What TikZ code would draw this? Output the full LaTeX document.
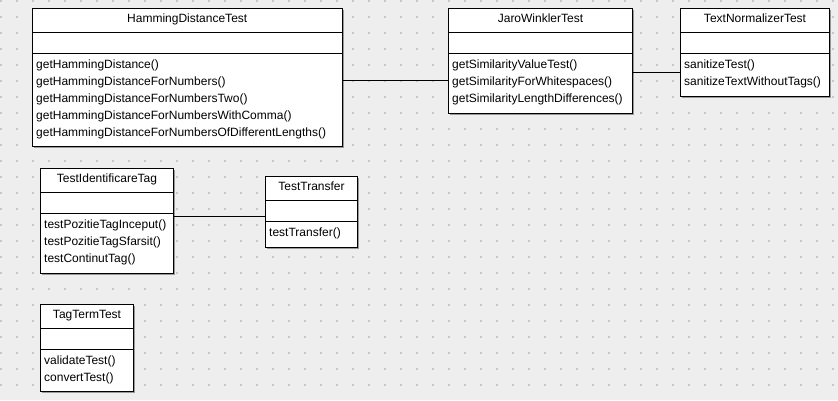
\documentclass[tikz,border=0pt]{standalone}
\usepackage{fontspec}
\setmainfont{Liberation Sans}
\usetikzlibrary{shadows}
\definecolor{canvas}{HTML}{EEEEEE}
\definecolor{griddot}{HTML}{C8C8C8}
\begin{document}
\begin{tikzpicture}[x=1pt,y=-1pt,
		cls/.style={draw,line width=1pt,fill=white,anchor=north west,inner sep=0pt,outer sep=0pt,
			drop shadow={shadow xshift=1.5pt,shadow yshift=-1.5pt,fill=black!40,opacity=1}},
		title/.style={anchor=base,inner sep=0pt,font=\fontsize{12}{17}\selectfont},
		meth/.style={anchor=base west,inner sep=0pt,font=\fontsize{12}{17}\selectfont},
		sep/.style={line width=1pt}]
		\useasboundingbox (0,0) rectangle (838,400);
		\fill[canvas] (0,0) rectangle (838,400);
		\foreach \i in {0,...,52}
			\foreach \j in {0,...,24}
				\fill[griddot] (16*\i+0.4,16*\j+0.4) rectangle ++(1.2,1.2);
		% HammingDistanceTest
		\node[cls,minimum width=309.5pt,minimum height=138pt] (ham) at (32.5,8.5) {};
		\node[title] (ham-t) at ([yshift=-14pt]ham.north) {HammingDistanceTest};
		\draw[sep] ([yshift=-24pt]ham.north west) -- ([yshift=-24pt]ham.north east);
		\draw[sep] ([yshift=-45pt]ham.north west) -- ([yshift=-45pt]ham.north east);
		\foreach \m [count=\k] in {getHammingDistance(),getHammingDistanceForNumbers(),getHammingDistanceForNumbersTwo(),getHammingDistanceForNumbersWithComma(),getHammingDistanceForNumbersOfDifferentLengths()}
			\node[meth] (ham-\k) at ([xshift=3.5pt,yshift={-43pt-17pt*\k}]ham.north west) {\m};
		% JaroWinklerTest
		\node[cls,minimum width=184pt,minimum height=105pt] (jaro) at (448.5,8.5) {};
		\node[title] (jaro-t) at ([yshift=-14pt]jaro.north) {JaroWinklerTest};
		\draw[sep] ([yshift=-24pt]jaro.north west) -- ([yshift=-24pt]jaro.north east);
		\draw[sep] ([yshift=-45pt]jaro.north west) -- ([yshift=-45pt]jaro.north east);
		\foreach \m [count=\k] in {getSimilarityValueTest(),getSimilarityForWhitespaces(),getSimilarityLengthDifferences()}
			\node[meth] (jaro-\k) at ([xshift=3.5pt,yshift={-43pt-17pt*\k}]jaro.north west) {\m};
		% TextNormalizerTest
		\node[cls,minimum width=149pt,minimum height=88pt] (norm) at (680.5,8.5) {};
		\node[title] (norm-t) at ([yshift=-14pt]norm.north) {TextNormalizerTest};
		\draw[sep] ([yshift=-24pt]norm.north west) -- ([yshift=-24pt]norm.north east);
		\draw[sep] ([yshift=-45pt]norm.north west) -- ([yshift=-45pt]norm.north east);
		\foreach \m [count=\k] in {sanitizeTest(),sanitizeTextWithoutTags()}
			\node[meth] (norm-\k) at ([xshift=3.5pt,yshift={-43pt-17pt*\k}]norm.north west) {\m};
		% TestIdentificareTag
		\node[cls,minimum width=133pt,minimum height=105pt] (ident) at (40.5,168.5) {};
		\node[title] (ident-t) at ([yshift=-14pt]ident.north) {TestIdentificareTag};
		\draw[sep] ([yshift=-24pt]ident.north west) -- ([yshift=-24pt]ident.north east);
		\draw[sep] ([yshift=-45pt]ident.north west) -- ([yshift=-45pt]ident.north east);
		\foreach \m [count=\k] in {testPozitieTagInceput(),testPozitieTagSfarsit(),testContinutTag()}
			\node[meth] (ident-\k) at ([xshift=3.5pt,yshift={-43pt-17pt*\k}]ident.north west) {\m};
		% TestTransfer
		\node[cls,minimum width=92pt,minimum height=71pt] (transfer) at (265.5,176.5) {};
		\node[title] (transfer-t) at ([yshift=-14pt]transfer.north) {TestTransfer};
		\draw[sep] ([yshift=-24pt]transfer.north west) -- ([yshift=-24pt]transfer.north east);
		\draw[sep] ([yshift=-45pt]transfer.north west) -- ([yshift=-45pt]transfer.north east);
		\node[meth] (transfer-1) at ([xshift=3.5pt,yshift=-60pt]transfer.north west) {testTransfer()};
		% TagTermTest
		\node[cls,minimum width=93pt,minimum height=87pt] (tagterm) at (40.5,304.5) {};
		\node[title] (tagterm-t) at ([yshift=-14pt]tagterm.north) {TagTermTest};
		\draw[sep] ([yshift=-24pt]tagterm.north west) -- ([yshift=-24pt]tagterm.north east);
		\draw[sep] ([yshift=-45pt]tagterm.north west) -- ([yshift=-45pt]tagterm.north east);
		\foreach \m [count=\k] in {validateTest(),convertTest()}
			\node[meth] (tagterm-\k) at ([xshift=3.5pt,yshift={-43pt-17pt*\k}]tagterm.north west) {\m};
		% links
		\coordinate (hj) at (0,80);
		\coordinate (jn) at (0,72);
		\coordinate (it) at (0,216);
		\draw[sep] (ham.east |- hj) -- (jaro.west |- hj);
		\draw[sep] (jaro.east |- jn) -- (norm.west |- jn);
		\draw[sep] (ident.east |- it) -- (transfer.west |- it);
	\end{tikzpicture}
\end{document}
